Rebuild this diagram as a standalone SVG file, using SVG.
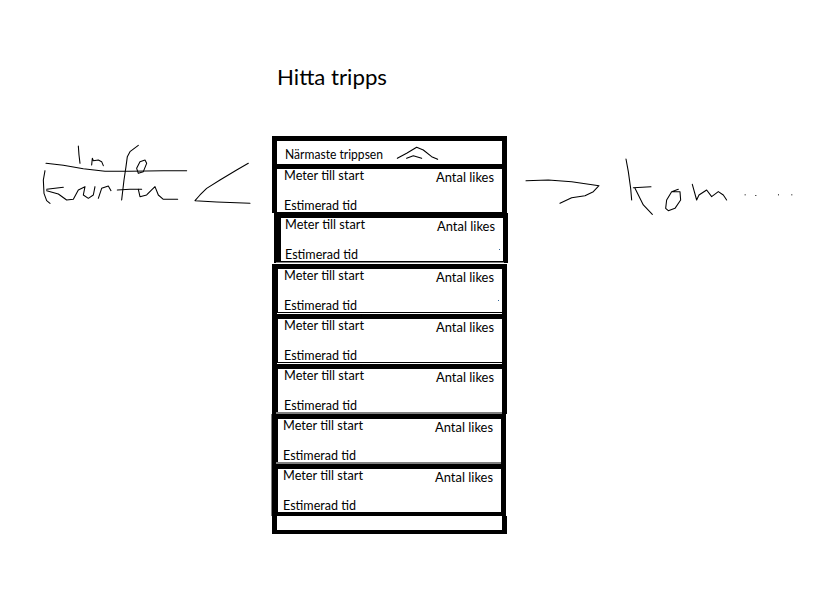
<svg xmlns="http://www.w3.org/2000/svg" width="813" height="608" viewBox="0 0 813 608">
<defs>
<style>
text{font-family:"Lato","Open Sans","Liberation Sans",sans-serif;fill:#000;font-size:13px}
.b{fill:#000}.w{fill:#fff}
.s{fill:none;stroke:#000;stroke-width:3.200;stroke-linejoin:round;stroke-linecap:round}
</style>
</defs>
<rect width="813" height="608" fill="#fff"/>
<g id="title"><text x="277" y="85" style="font-size:22px" textLength="110" lengthAdjust="spacingAndGlyphs">Hitta tripps</text></g>

<g id="header">
<rect class="b" x="272" y="136" width="235" height="33"/>
<rect class="w" x="277" y="141" width="225" height="23"/>
<text x="285" y="159" textLength="98" lengthAdjust="spacingAndGlyphs">Närmaste trippsen</text>
<g transform="translate(265 130) scale(.3333)"><polyline class="s" points="397,85 425,70 455,52 475,60 500,80 518,88"/><polyline class="s" points="425,85 445,77 470,85"/></g>
</g>

<g id="row1">
<rect class="b" x="272" y="164" width="235" height="49"/>
<rect class="w" x="277" y="169" width="225" height="43"/>
<text x="284" y="180" textLength="80" lengthAdjust="spacingAndGlyphs">Meter till start</text>
<text x="436" y="182" textLength="58" lengthAdjust="spacingAndGlyphs">Antal likes</text>
<text x="284" y="210" textLength="73" lengthAdjust="spacingAndGlyphs">Estimerad tid</text>
</g>
<g id="row2">
<rect class="b" x="274" y="213" width="234" height="50"/>
<rect class="w" x="281" y="218" width="222" height="43"/>
<text x="285" y="229" textLength="80" lengthAdjust="spacingAndGlyphs">Meter till start</text>
<text x="437" y="231" textLength="58" lengthAdjust="spacingAndGlyphs">Antal likes</text>
<text x="285" y="259" textLength="73" lengthAdjust="spacingAndGlyphs">Estimerad tid</text>
<rect x="499" y="249" width="1" height="1" fill="#369"/>
</g>
<g id="row3">
<rect class="w" x="276" y="262.500" width="228" height="1"/>
<rect class="b" x="272" y="264" width="235" height="50"/>
<rect class="w" x="278" y="269" width="224" height="43"/>
<rect class="w" x="277" y="313" width="225" height="1"/>
<text x="284" y="280" textLength="80" lengthAdjust="spacingAndGlyphs">Meter till start</text>
<text x="436" y="282" textLength="58" lengthAdjust="spacingAndGlyphs">Antal likes</text>
<text x="284" y="310" textLength="73" lengthAdjust="spacingAndGlyphs">Estimerad tid</text>
<rect x="498" y="300" width="1" height="1" fill="#369"/>
</g>
<g id="row4">
<rect class="b" x="272" y="314" width="235" height="50"/>
<rect class="w" x="278" y="319" width="224" height="43"/>
<rect class="w" x="277" y="363" width="225" height="1"/>
<text x="284" y="330" textLength="80" lengthAdjust="spacingAndGlyphs">Meter till start</text>
<text x="436" y="332" textLength="58" lengthAdjust="spacingAndGlyphs">Antal likes</text>
<text x="284" y="360" textLength="73" lengthAdjust="spacingAndGlyphs">Estimerad tid</text>
</g>
<g id="row5">
<rect class="b" x="272" y="364" width="235" height="50"/>
<rect class="w" x="278" y="369" width="224" height="43"/>
<rect class="w" x="276" y="412.500" width="226" height="1"/>
<text x="284" y="380" textLength="80" lengthAdjust="spacingAndGlyphs">Meter till start</text>
<text x="436" y="382" textLength="58" lengthAdjust="spacingAndGlyphs">Antal likes</text>
<text x="284" y="410" textLength="73" lengthAdjust="spacingAndGlyphs">Estimerad tid</text>
</g>
<g id="row6">
<rect class="b" x="271.500" y="414" width="234.500" height="50"/>
<rect class="w" x="278" y="419" width="223" height="43"/>
<rect class="w" x="276" y="462.500" width="225" height="1"/>
<text x="283" y="430" textLength="80" lengthAdjust="spacingAndGlyphs">Meter till start</text>
<text x="435" y="432" textLength="58" lengthAdjust="spacingAndGlyphs">Antal likes</text>
<text x="283" y="460" textLength="73" lengthAdjust="spacingAndGlyphs">Estimerad tid</text>
</g>
<g id="row7">
<rect class="b" x="271.500" y="464" width="234.500" height="52"/>
<rect class="w" x="278" y="469" width="223" height="43"/>
<text x="283" y="480" textLength="80" lengthAdjust="spacingAndGlyphs">Meter till start</text>
<text x="435" y="482" textLength="58" lengthAdjust="spacingAndGlyphs">Antal likes</text>
<text x="283" y="510" textLength="73" lengthAdjust="spacingAndGlyphs">Estimerad tid</text>
</g>
<g id="footer">
<rect class="b" x="272" y="516" width="235" height="18"/>
<rect class="w" x="277" y="516" width="225" height="14"/>
</g>

<g id="connectors">
<g id="sketch-left" transform="translate(30 130) scale(.3333)">
<polyline class="s" points="48,100 100,106 160,116 225,124 300,124 400,122 470,122"/>
<polyline class="s" points="145,48 147,75 150,100"/>
<polyline class="s" points="185,105 187,85 190,92 205,90 215,95 220,107"/>
<polyline class="s" points="325,46 300,65 292,80 288,110 282,150 275,210"/>
<polyline class="s" points="345,90 330,95 320,115 325,130 340,125 350,100 345,90"/>
<polyline class="s" points="45,122 40,150 42,190 50,212 60,220"/>
<polyline class="s" points="50,178 75,175 100,172"/>
<polyline class="s" points="50,182 85,192 110,210 130,208 145,180 165,170 160,195 175,205 190,195 195,170"/>
<polyline class="s" points="205,205 215,175 235,168 243,182"/>
<polyline class="s" points="262,180 300,178 335,178"/>
<polyline class="s" points="325,178 330,200 350,195 365,180 375,170 385,195 400,208 443,208"/>
<polyline class="s" points="655,100 620,120 570,150 530,175 510,195 495,212 560,216 660,220"/>
</g>
<g id="sketch-right" transform="translate(515 145) scale(.3333)">
<polyline class="s" points="33,107 100,105 170,110 252,122 235,140 210,152 170,158 135,175"/>
<polyline class="s" points="333,42 340,80 347,130 350,165"/>
<polyline class="s" points="355,128 408,125"/>
<polyline class="s" points="360,130 385,180 412,208"/>
<polyline class="s" points="490,133 470,140 455,165 452,190 460,197 480,190 497,165 495,140 470,140"/>
<polyline class="s" points="532,118 545,165 552,150 575,135 590,155 610,140 625,150 635,165"/>
<rect class="b" x="689" y="148" width="3" height="3"/>
<rect class="b" x="721" y="150" width="3" height="3"/>
<rect class="b" x="789" y="148" width="3" height="3"/>
<rect class="b" x="829" y="148" width="3" height="3"/>
</g>
</g>
</svg>
